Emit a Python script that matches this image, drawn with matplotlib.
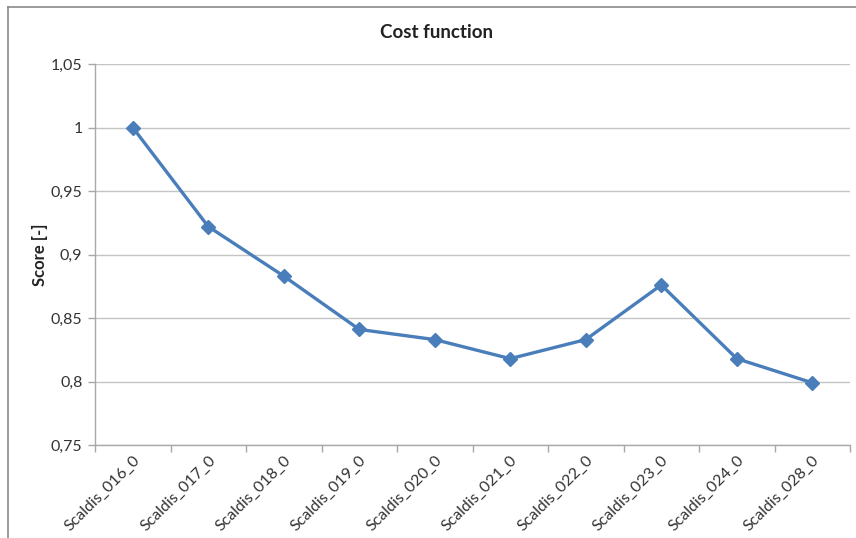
import matplotlib
matplotlib.use("Agg")
import matplotlib.pyplot as plt
from matplotlib.ticker import FixedLocator, FuncFormatter
from matplotlib.lines import Line2D

# Runs and their cost-function scores
runs = ["Scaldis_016_0", "Scaldis_017_0", "Scaldis_018_0", "Scaldis_019_0",
        "Scaldis_020_0", "Scaldis_021_0", "Scaldis_022_0", "Scaldis_023_0",
        "Scaldis_024_0", "Scaldis_028_0"]
scores = [1.000, 0.922, 0.883, 0.841, 0.833, 0.818, 0.833, 0.876, 0.818, 0.799]
y_ticks = [0.75, 0.80, 0.85, 0.90, 0.95, 1.00, 1.05]

plt.rcParams["font.family"] = ["Lato", "DejaVu Sans"]

fig = plt.figure(figsize=(8.56, 5.38), dpi=100)
W, H = 856, 538
ax = fig.add_axes([95 / W, 1 - 445 / H, (850 - 95) / W, (445 - 64) / H])

x = list(range(len(runs)))
ax.plot(x, scores, color="#4A7EBB", lw=2.4, marker="D", ms=7,
        markeredgecolor="#4A7EBB", markerfacecolor="#4A7EBB", zorder=3)

ax.set_xlim(-0.5, len(runs) - 0.5)
ax.set_ylim(0.75, 1.05)
ax.yaxis.set_major_locator(FixedLocator(y_ticks))
ax.yaxis.set_major_formatter(FuncFormatter(lambda v, p: ("%g" % round(v, 2)).replace(".", ",")))
ax.grid(axis="y", color="#c4c4c4", lw=1.0, zorder=0)

ax.set_xticks(x)
ax.set_xticklabels(runs, rotation=45, ha="right", rotation_mode="anchor",
                   fontsize=11.5, color="#333333")
ax.set_xticks([i - 0.5 for i in range(len(runs) + 1)], minor=True)
ax.tick_params(axis="x", which="major", length=0, pad=6)
ax.tick_params(axis="x", which="minor", length=5, color="#a8a8a8", width=1)
ax.tick_params(axis="y", length=5, color="#a8a8a8", width=1, labelsize=11.5,
               labelcolor="#333333", pad=4)

for s in ("top", "right"):
    ax.spines[s].set_visible(False)
for s in ("left", "bottom"):
    ax.spines[s].set_color("#a8a8a8")
    ax.spines[s].set_linewidth(1)

ax.set_ylabel("Score [-]", fontsize=12, fontweight="bold", color="#222222", labelpad=2)
fig.text(437 / W, 1 - 32 / H, "Cost function", ha="center", va="center",
         fontsize=13.5, fontweight="bold", color="#222222")

# Chart-area frame
fig.add_artist(Line2D([8 / W, 1.0], [1 - 7 / H, 1 - 7 / H], transform=fig.transFigure,
                      color="#8a8a8a", lw=1.2))
fig.add_artist(Line2D([8 / W, 8 / W], [0.0, 1 - 7 / H], transform=fig.transFigure,
                      color="#8a8a8a", lw=1.2))

fig.savefig("out.png", dpi=100)
